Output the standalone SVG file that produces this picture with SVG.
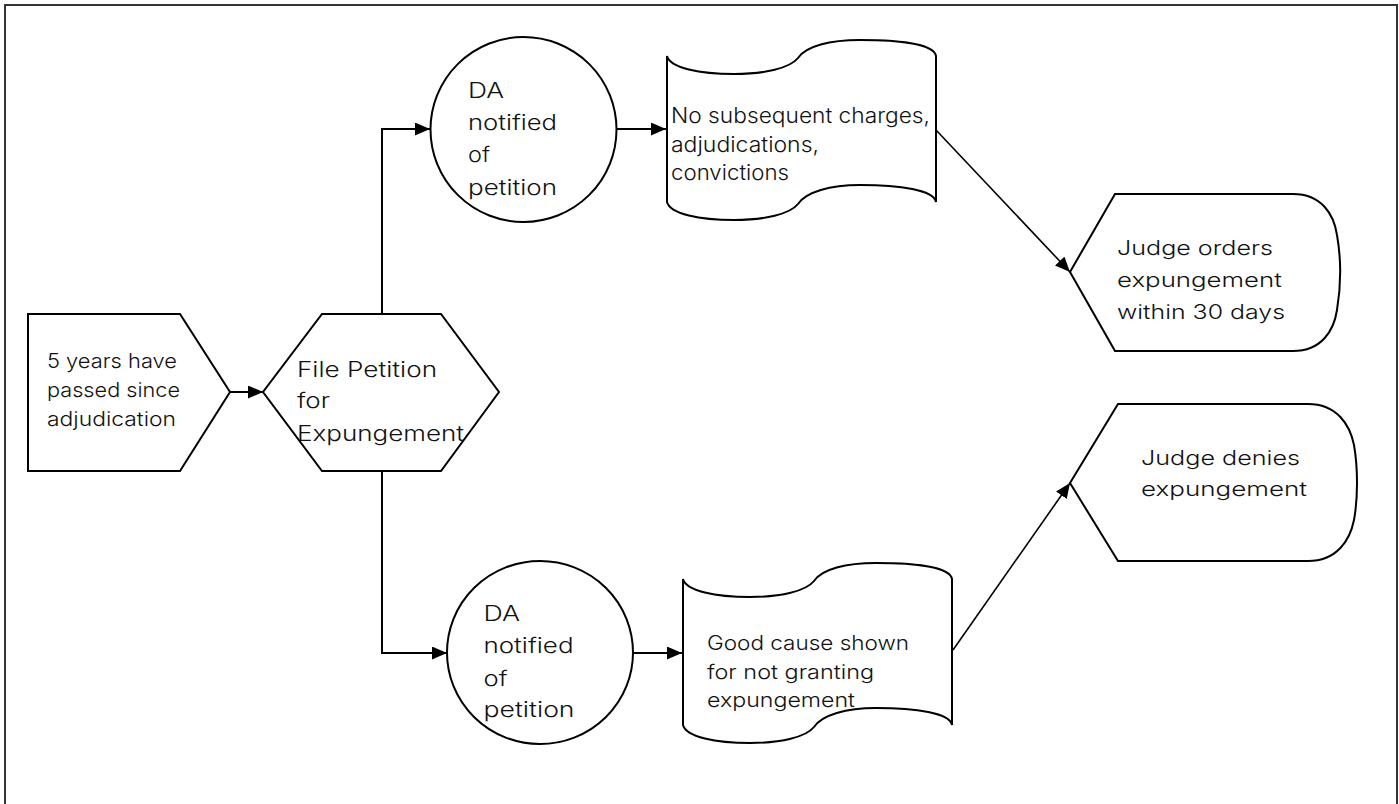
<svg xmlns="http://www.w3.org/2000/svg" width="1399" height="804" viewBox="0 0 1399 804">
<style>
.shape{fill:#fff;stroke:#000;stroke-width:2;stroke-linejoin:miter}
.conn{fill:none;stroke:#000;stroke-width:2}
.diag{fill:none;stroke:#000;stroke-width:1.6}
text{font-family:Inter,"Liberation Sans",sans-serif;font-weight:300;fill:#111}
.s20{font-size:20px}
.s21{font-size:21px}
</style>
<defs>
<marker id="arr" markerUnits="userSpaceOnUse" markerWidth="16" markerHeight="14" refX="15" refY="6.5" orient="auto">
<path d="M0,0 L15,6.5 L0,13 Z" fill="#000"/>
</marker>
</defs>
<rect x="5" y="5" width="1392" height="820" fill="#fff" stroke="#333" stroke-width="2"/>

<g id="connectors">
<line class="conn" x1="230" y1="392" x2="263" y2="392" marker-end="url(#arr)"/>
<polyline class="conn" points="382,314 382,129 430,129" marker-end="url(#arr)"/>
<polyline class="conn" points="382,471 382,653 447,653" marker-end="url(#arr)"/>
<line class="conn" x1="617" y1="129" x2="666" y2="129" marker-end="url(#arr)"/>
<line class="conn" x1="633" y1="653" x2="682" y2="653" marker-end="url(#arr)"/>
<line class="diag" x1="936" y1="130" x2="1070" y2="272" marker-end="url(#arr)"/>
<line class="diag" x1="953" y1="650" x2="1070" y2="483" marker-end="url(#arr)"/>
</g>

<g id="n-start">
<polygon class="shape" points="28,314 180,314 230,392 180,471 28,471"/>
<text class="s20" x="47" y="368" textLength="130" lengthAdjust="spacingAndGlyphs">5 years have</text>
<text class="s20" x="47" y="397" textLength="133" lengthAdjust="spacingAndGlyphs">passed since</text>
<text class="s20" x="47" y="426" textLength="129" lengthAdjust="spacingAndGlyphs">adjudication</text>
</g>

<g id="n-file">
<polygon class="shape" points="322,314 441,314 499,392 441,471 322,471 263,392"/>
<text class="s21" x="297" y="377" textLength="140" lengthAdjust="spacingAndGlyphs">File Petition</text>
<text class="s21" x="297" y="408" textLength="33" lengthAdjust="spacingAndGlyphs">for</text>
<text class="s21" x="297" y="441" textLength="167" lengthAdjust="spacingAndGlyphs">Expungement</text>
</g>

<g id="n-da-top">
<ellipse class="shape" cx="523.5" cy="129.5" rx="93" ry="92.5"/>
<text class="s21" x="468" y="98" textLength="36" lengthAdjust="spacingAndGlyphs">DA</text>
<text class="s21" x="468" y="130" textLength="89" lengthAdjust="spacingAndGlyphs">notified</text>
<text class="s21" x="468" y="162" textLength="22" lengthAdjust="spacingAndGlyphs">of</text>
<text class="s21" x="468" y="195" textLength="89" lengthAdjust="spacingAndGlyphs">petition</text>
</g>

<g id="n-da-bottom">
<ellipse class="shape" cx="540" cy="652.5" rx="93" ry="91.5"/>
<text class="s21" x="483.5" y="621" textLength="36.5" lengthAdjust="spacingAndGlyphs">DA</text>
<text class="s21" x="483.5" y="653" textLength="90" lengthAdjust="spacingAndGlyphs">notified</text>
<text class="s21" x="483.5" y="686" textLength="24" lengthAdjust="spacingAndGlyphs">of</text>
<text class="s21" x="483.5" y="717" textLength="91" lengthAdjust="spacingAndGlyphs">petition</text>
</g>

<g id="n-no-charges">
<path class="shape" d="M667,56 C670,68 700,74 734,74 C765,74 790,68 798,58 C806,46 830,40 860,40 C900,40 934,44 936,56 L936,202 C934,190 900,185 860,185 C830,185 806,192 798,204 C790,214 765,220 734,220 C700,220 670,214 667,202 Z"/>
<text class="s21" x="671" y="123" textLength="259" lengthAdjust="spacingAndGlyphs">No subsequent charges,</text>
<text class="s21" x="671" y="152" textLength="148" lengthAdjust="spacingAndGlyphs">adjudications,</text>
<text class="s21" x="671" y="180" textLength="118" lengthAdjust="spacingAndGlyphs">convictions</text>
</g>

<g id="n-good-cause">
<path class="shape" transform="translate(16,523)" d="M667,56 C670,68 700,74 734,74 C765,74 790,68 798,58 C806,46 830,40 860,40 C900,40 934,44 936,56 L936,202 C934,190 900,185 860,185 C830,185 806,192 798,204 C790,214 765,220 734,220 C700,220 670,214 667,202 Z"/>
<text class="s20" x="707" y="650" textLength="202" lengthAdjust="spacingAndGlyphs">Good cause shown</text>
<text class="s20" x="707" y="679" textLength="167" lengthAdjust="spacingAndGlyphs">for not granting</text>
<text class="s20" x="707" y="707" textLength="148" lengthAdjust="spacingAndGlyphs">expungement</text>
</g>

<g id="n-orders">
<path class="shape" d="M1070,272 L1115,194 L1293,194 C1322,194 1334,215 1337,235 C1341,258 1341,286 1337,310 C1334,330 1322,351 1293,351 L1115,351 Z"/>
<text class="s20" x="1117" y="255" textLength="156" lengthAdjust="spacingAndGlyphs">Judge orders</text>
<text class="s20" x="1117" y="287" textLength="165" lengthAdjust="spacingAndGlyphs">expungement</text>
<text class="s20" x="1117" y="319" textLength="168" lengthAdjust="spacingAndGlyphs">within 30 days</text>
</g>

<g id="n-denies">
<path class="shape" d="M1070,483 L1118,404 L1308,404 C1337,404 1350,425 1354,445 C1358,468 1358,498 1354,520 C1350,540 1337,561 1308,561 L1118,561 Z"/>
<text class="s20" x="1141" y="465" textLength="159" lengthAdjust="spacingAndGlyphs">Judge denies</text>
<text class="s20" x="1141" y="496" textLength="166" lengthAdjust="spacingAndGlyphs">expungement</text>
</g>
</svg>
